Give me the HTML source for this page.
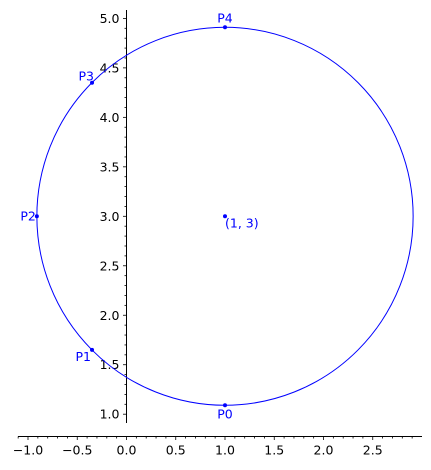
<!DOCTYPE html>
<html><head><meta charset="utf-8"><style>
html,body{margin:0;padding:0;background:#fff;}
svg{display:block;font-family:"DejaVu Sans","Liberation Sans",sans-serif;}
</style></head><body>
<svg id="chart" width="431" height="470" viewBox="0 0 431 470" xmlns="http://www.w3.org/2000/svg"></svg>
<script>
const center = [1, 3];
const radius = 1.91;
const pointLabels = ["P0","P1","P2","P3","P4"];
const pointX = [1, -0.35, -0.91, -0.35, 1];
const pointY = [1.09, 1.65, 3, 4.35, 4.91];
const xTicks = [-1.0,-0.5,0.0,0.5,1.0,1.5,2.0,2.5];
const yTicks = [1.0,1.5,2.0,2.5,3.0,3.5,4.0,4.5,5.0];
const centerLabel = "(1, 3)";

const X0 = 126.5, XS = 98.5;
const Y0 = 414.2, YS = 98.95;
const sx = v => X0 + v*XS;
const sy = v => Y0 - (v-1)*YS;
const svg = document.getElementById('chart');
const NS = 'http://www.w3.org/2000/svg';
function mk(tag, attrs, parent){
  const e = document.createElementNS(NS, tag);
  for (const k in attrs) e.setAttribute(k, attrs[k]);
  (parent||svg).appendChild(e);
  return e;
}
const axY = 436.5;
// axes
const xAxis = mk('line',{x1:18,y1:axY,x2:422,y2:axY,stroke:'#000','stroke-width':1});


const yAxis = mk('line',{x1:X0,y1:10,x2:X0,y2:423,stroke:'#000','stroke-width':1});


// minor ticks
for (let i=-11;i<=29;i++){
  const v=i/10, x=sx(v);
  if (x<18||x>422) continue;
  const major = i%5===0;
  const t = mk('line',{x1:x,y1:axY,x2:x,y2:axY+(major?3.5:2),stroke:'#000','stroke-width':0.8});
  
  
}
for (let i=9;i<=50;i++){
  const v=i/10, y=sy(v);
  if (y<10||y>423) continue;
  const major = i%5===0;
  const t = mk('line',{x1:X0,y1:y,x2:X0-(major?3.5:2),y2:y,stroke:'#000','stroke-width':0.8});
  
  
}
xTicks.forEach(v=>{
  const t = mk('text',{x:sx(v),y:axY+18,'text-anchor':'middle','font-size':12.5,fill:'#000'});
  t.textContent = v.toFixed(1).replace('-','\u2212');
  
  
});
yTicks.forEach(v=>{
  const t = mk('text',{x:X0-7,y:sy(v)+4.5,'text-anchor':'end','font-size':12.5,fill:'#000'});
  t.textContent = v.toFixed(1);
  
  
});
// circle
const circ = mk('ellipse',{cx:sx(center[0]),cy:sy(center[1]),rx:radius*XS,ry:radius*YS,fill:'none',stroke:'#0000ff','stroke-width':1});


// center
const cp = mk('circle',{cx:sx(center[0]),cy:sy(center[1]),r:2,fill:'#0000ff'});


const cl = mk('text',{x:sx(center[0]),y:sy(center[1])+11,'font-size':12.5,fill:'#0000ff'});
cl.textContent = centerLabel;


// points
pointLabels.forEach((lab,i)=>{
  const x=sx(pointX[i]), y=sy(pointY[i]);
  const p = mk('circle',{cx:x,cy:y,r:2,fill:'#0000ff'});
  
  
  let lx=x, ly=y, anchor='middle';
  if (i===0){ ly=y+13; }
  else if (i===4){ ly=y-5; }
  else if (i===2){ lx=x-1; ly=y+4; anchor='end'; }
  else if (i===1){ lx=x-1; ly=y+11; anchor='end'; }
  else { lx=x+2; ly=y-2; anchor='end'; }
  const t = mk('text',{x:lx,y:ly,'text-anchor':anchor,'font-size':12.5,fill:'#0000ff'});
  t.textContent = lab;
  
  
});
</script>
</body></html>
